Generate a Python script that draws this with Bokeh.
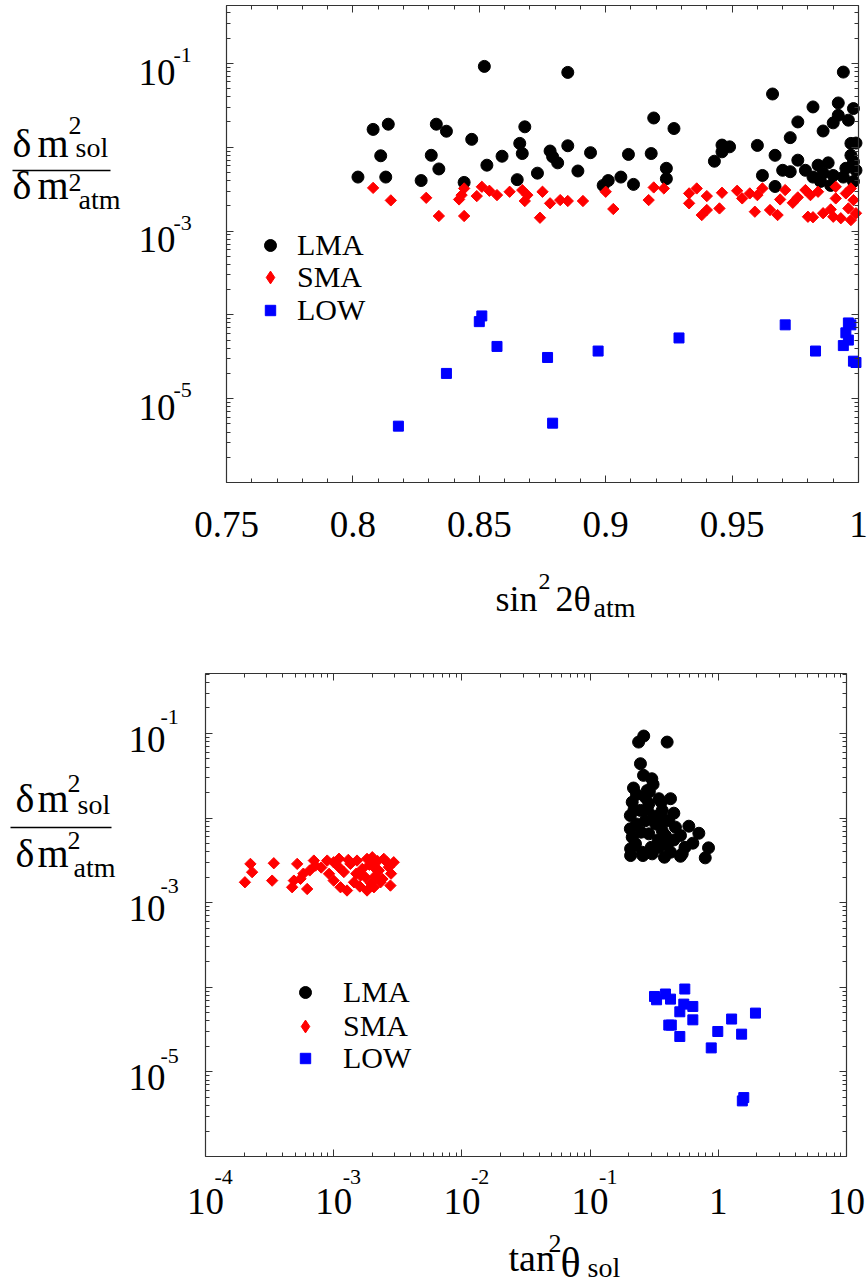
import math
from bokeh.plotting import figure
from bokeh.layouts import column
from bokeh.models import (FixedTicker, Label, Legend, LegendItem, LinearAxis, LogAxis,
                          Range1d, CustomJSTickFormatter, Arrow)
from bokeh.embed import file_html
from bokeh.resources import INLINE

FONT = "Liberation Serif"

# ---------------- data: top panel (sin^2 2theta_atm vs ratio) ----------------
lma_top_x = [0.808, 0.814, 0.811, 0.802, 0.813, 0.827, 0.833, 0.831, 0.834,
             0.852, 0.885, 0.994, 0.966, 0.982, 0.992, 0.998, 0.992, 0.990, 0.996,
             0.837, 0.868, 0.919, 0.927, 0.976, 0.986,
             0.847, 0.866, 0.885, 0.867, 0.878, 0.879, 0.881, 0.859, 0.894, 0.909, 0.918,
             0.853, 0.889, 0.873, 0.865, 0.844, 0.899, 0.901, 0.906, 0.911, 0.924, 0.924,
             0.946, 0.949, 0.946, 0.943, 0.960, 0.973, 0.967, 0.976, 0.962, 0.970, 0.973, 0.967,
             0.979, 0.984, 0.988, 0.982, 0.986, 0.990, 0.985, 0.989,
             0.997, 0.999, 0.997, 0.998, 0.995, 0.999, 0.998, 0.994]
lma_top_y = [0.0163, 0.0188, 0.0079, 0.0044, 0.0044, 0.0040, 0.0188, 0.0080, 0.0055,
             0.092, 0.078, 0.0787, 0.0431, 0.0302, 0.0337, 0.0289, 0.0240, 0.0195, 0.0210,
             0.0155, 0.0175, 0.0223, 0.0167, 0.0200, 0.0156,
             0.0124, 0.0111, 0.0104, 0.0084, 0.0090, 0.0077, 0.0065, 0.0078, 0.0086, 0.0082, 0.0084,
             0.0061, 0.0052, 0.0049, 0.0041, 0.0038, 0.0035, 0.0040, 0.0044, 0.0036, 0.0056, 0.0042,
             0.0106, 0.0101, 0.0088, 0.0068, 0.0105, 0.0130, 0.0080, 0.0070, 0.0046, 0.0053, 0.0051, 0.0034,
             0.0053, 0.0061, 0.0065, 0.0044, 0.0049, 0.0046, 0.0039, 0.0035,
             0.0111, 0.0112, 0.0080, 0.0067, 0.0056, 0.0053, 0.0039, 0.0044]

sma_top_x = [0.808, 0.815, 0.829, 0.834,
             0.844, 0.843, 0.842, 0.844, 0.851, 0.849, 0.854, 0.857, 0.862, 0.867, 0.869, 0.868,
             0.875, 0.878, 0.882, 0.885, 0.874, 0.891, 0.900, 0.903, 0.917, 0.919, 0.923,
             0.933, 0.936, 0.933, 0.940, 0.938, 0.940, 0.946, 0.945, 0.952, 0.954, 0.957, 0.962,
             0.960, 0.959, 0.965, 0.968, 0.969, 0.971, 0.974, 0.976, 0.979, 0.981, 0.984, 0.980,
             0.982, 0.986, 0.989, 0.991, 0.991, 0.990, 0.993, 0.995, 0.997, 0.998, 0.996, 0.999, 0.997]
sma_top_y = [0.00327, 0.00232, 0.00249, 0.00151,
             0.00322, 0.00268, 0.00238, 0.00151, 0.00337, 0.00261, 0.00302, 0.00268, 0.00294, 0.00308, 0.00268, 0.00228,
             0.00294, 0.00214, 0.00234, 0.00228, 0.00144, 0.00228, 0.00294, 0.00183, 0.00234, 0.00331, 0.00322,
             0.00281, 0.00322, 0.00214, 0.00261, 0.00155, 0.00178, 0.00286, 0.00186, 0.00302, 0.00245, 0.00281, 0.00322,
             0.00268, 0.00170, 0.00178, 0.00155, 0.00238, 0.00308, 0.00217, 0.00252, 0.00308, 0.00268, 0.00294, 0.00148,
             0.00146, 0.00163, 0.00181, 0.00337, 0.00245, 0.00148, 0.00142, 0.00281, 0.00322, 0.00234, 0.00186, 0.00163, 0.00135]

low_top_x = [0.851, 0.850, 0.857, 0.877, 0.897, 0.929, 0.971, 0.983, 0.996, 0.997,
             0.995, 0.996, 0.994, 0.998, 0.999, 0.837, 0.879, 0.818]
low_top_y = [9.7e-5, 8.3e-5, 4.2e-5, 3.1e-5, 3.7e-5, 5.3e-5, 7.6e-5, 3.7e-5, 8.0e-5, 7.6e-5,
             6.1e-5, 5.0e-5, 4.3e-5, 2.8e-5, 2.7e-5, 2.0e-5, 5.1e-6, 4.7e-6]

# ---------------- data: bottom panel (tan^2 theta_sol vs ratio) ----------------
lma_bot_x = [0.262, 0.239, 0.399, 0.247, 0.261, 0.303, 0.218, 0.290, 0.424, 0.213, 0.359, 0.206,
             0.450, 0.206, 0.589, 0.705, 0.633, 0.839, 0.791, 0.207, 0.258, 0.380, 0.507,
             0.279, 0.344, 0.287, 0.247, 0.365, 0.270, 0.324, 0.411, 0.213, 0.287, 0.387, 0.507,
             0.207, 0.255, 0.344, 0.424, 0.523, 0.305, 0.226, 0.365, 0.463,
             0.23, 0.32, 0.28, 0.38, 0.25, 0.45, 0.34, 0.22, 0.30, 0.40, 0.55, 0.27, 0.23, 0.31]
lma_bot_y = [0.093, 0.0789, 0.0789, 0.0438, 0.0319, 0.0291, 0.0226, 0.0206, 0.0169, 0.0154, 0.0154, 0.0107,
             0.0114, 0.00745, 0.0080, 0.0066, 0.00504, 0.00444, 0.00338, 0.0036, 0.0036, 0.00344, 0.00353,
             0.0211, 0.0169, 0.0147, 0.0123, 0.0123, 0.0093, 0.0085, 0.0093, 0.00593, 0.0065, 0.0062, 0.0062,
             0.00433, 0.00394, 0.00451, 0.00394, 0.00377, 0.00377, 0.00495, 0.0071, 0.0078,
             0.0085, 0.0105, 0.0125, 0.0095, 0.0068, 0.0055, 0.0055, 0.0125, 0.0045, 0.0048, 0.0045, 0.0175, 0.0190, 0.0250]

sma_bot_x = [2.24e-4, 2.31e-4, 2.03e-4, 3.41e-4, 3.31e-4, 5.19e-4, 4.89e-4, 4.74e-4, 5.51e-4, 6.21e-4,
             7.0e-4, 7.21e-4, 8.9e-4, 1.0e-3, 1.10e-3, 9.2e-4, 1.0e-3, 1.13e-3, 1.27e-3, 1.44e-3,
             1.35e-3, 1.52e-3, 1.67e-3, 1.82e-3, 2.0e-3, 2.06e-3, 1.77e-3, 1.82e-3, 2.06e-3, 2.32e-3,
             2.46e-3, 2.69e-3, 2.94e-3, 2.77e-3, 2.25e-3, 1.62e-3,
             1.2e-3, 1.5e-3, 1.9e-3, 2.2e-3, 2.6e-3, 1.3e-3, 1.1e-3, 8.0e-4, 1.6e-3, 2.4e-3, 2.8e-3, 1.95e-3,
             6.5e-4, 5.8e-4, 2.1e-3]
sma_bot_y = [2.87e-3, 2.29e-3, 1.74e-3, 2.92e-3, 1.82e-3, 2.87e-3, 1.82e-3, 1.52e-3, 1.91e-3, 1.45e-3,
             3.14e-3, 2.74e-3, 3.14e-3, 3.0e-3, 2.62e-3, 2.19e-3, 1.82e-3, 1.52e-3, 1.39e-3, 1.74e-3,
             2.87e-3, 3.14e-3, 2.5e-3, 3.29e-3, 3.44e-3, 2.62e-3, 1.99e-3, 1.39e-3, 1.52e-3, 1.74e-3,
             3.29e-3, 2.62e-3, 3.0e-3, 1.59e-3, 2.39e-3, 2.09e-3,
             2.3e-3, 2.2e-3, 2.8e-3, 3.1e-3, 3.0e-3, 3.2e-3, 3.3e-3, 2.6e-3, 1.55e-3, 1.9e-3, 2.2e-3, 1.7e-3,
             2.4e-3, 2.2e-3, 2.05e-3]

low_bot_x = [0.318, 0.330, 0.387, 0.424, 0.548, 0.538, 0.633, 0.501, 0.633, 0.430, 0.411, 0.501,
             0.991, 1.27, 1.95, 1.52, 0.881, 1.58, 1.54]
low_bot_y = [7.78e-5, 7.11e-5, 8.32e-5, 7.24e-5, 9.53e-5, 6.32e-5, 5.93e-5, 5.13e-5, 4.12e-5, 3.57e-5,
             3.57e-5, 2.62e-5, 3.0e-5, 4.21e-5, 4.95e-5, 2.79e-5, 1.92e-5, 4.97e-6, 4.54e-6]

# ---------------- tick labels ----------------
top_x_ticks = [0.75, 0.8, 0.85, 0.9, 0.95, 1.0]
top_x_labels = ["0.75", "0.8", "0.85", "0.9", "0.95", "1"]
y_label_ticks = [1e-1, 1e-3, 1e-5]
y_label_exps = ["-1", "-3", "-5"]
bot_x_pow_ticks = [1e-4, 1e-3, 1e-2, 1e-1]
bot_x_pow_exps = ["-4", "-3", "-2", "-1"]
bot_x_plain_ticks = [1.0, 10.0]
bot_x_plain_labels = ["1", "10"]
series_names = ["LMA", "SMA", "LOW"]

# ---------------- layout constants (pixels) ----------------
W = 868
H1, H2 = 650, 636
EDGE = "#333333"
BASE_FIX = 0.38   # raise alphabetic-baseline labels by this fraction of their font size

log_major_all = [10.0 ** k for k in range(-6, 2)]
log_minor_all = [m * 10.0 ** k for k in range(-6, 1) for m in range(2, 10)]
lin_minor = [round(0.75 + 0.01 * i, 2) for i in range(26)]


def within(vals, lo, hi):
    return [v for v in vals if lo * (1 - 1e-9) <= v <= hi * (1 + 1e-9)]


def lin_range(v0, p0, v1, p1, size):
    k = (v1 - v0) / (p1 - p0)
    return Range1d(v0 - p0 * k, v1 + (size - p1) * k)


def log_range_x(v0, p0, v1, p1, size):
    a, b = math.log10(v0), math.log10(v1)
    k = (b - a) / (p1 - p0)
    return Range1d(10 ** (a - p0 * k), 10 ** (b + (size - p1) * k))


def log_range_y(vtop, ptop, vbot, pbot, size):
    t, b = math.log10(vtop), math.log10(vbot)
    k = (t - b) / (pbot - ptop)
    return Range1d(10 ** (b - (size - pbot) * k), 10 ** (t + ptop * k))


def box_axis(p, cls, side, loc, bounds, major, minor):
    ax = cls(fixed_location=loc, bounds=bounds)
    ax.ticker = FixedTicker(ticks=within(major, *bounds), minor_ticks=within(minor, *bounds))
    ax.formatter = CustomJSTickFormatter(code="return ''")
    ax.major_label_text_font_size = "0px"
    ax.major_label_standoff = 0
    ax.major_tick_in = 7
    ax.major_tick_out = 0
    ax.minor_tick_in = 4
    ax.minor_tick_out = 0
    ax.major_tick_line_color = EDGE
    ax.minor_tick_line_color = EDGE
    ax.axis_line_color = EDGE
    ax.axis_line_width = 1.2
    p.add_layout(ax, side)


def lab(p, text, x, y, size, align="left", xo=0, yo=0):
    p.add_layout(Label(x=x, y=y, x_units="data", y_units="data", text=text, text_font=FONT,
                       text_font_size=f"{size}px", text_align=align, text_baseline="alphabetic",
                       x_offset=xo, y_offset=yo + BASE_FIX * size, text_color="black"))


def make_fig(height, xr, yr, x_type):
    p = figure(width=W, height=height, x_range=xr, y_range=yr, x_axis_type=x_type,
               y_axis_type="log", x_axis_location=None, y_axis_location=None,
               output_backend="svg", toolbar_location=None,
               min_border_left=0, min_border_right=0, min_border_top=0, min_border_bottom=0)
    p.grid.visible = False
    p.outline_line_color = None
    p.background_fill_color = "white"
    p.border_fill_color = "white"
    return p


def add_series(p, xs, ys):
    r1 = p.scatter(xs[0], ys[0], marker="circle", size=12, fill_color="black", line_color="black", line_width=1)
    r2 = p.scatter(xs[1], ys[1], marker="square", angle=math.pi / 4, size=8, fill_color="red",
                   line_color="red", line_width=1)
    r3 = p.scatter(xs[2], ys[2], marker="square", size=10, fill_color="blue", line_color="blue", line_width=1)
    # legend key for the diamonds (legend keys ignore glyph angle)
    r2k = p.scatter([float("nan")], [float("nan")], marker="diamond", size=8, fill_color="red",
                    line_color="red", line_width=1)
    return [r1, r2k, r3]


def add_legends(p, rends, specs):
    for r, name, (lx, ly, gw, so) in zip(rends, series_names, specs):
        leg = Legend(items=[LegendItem(label=name, renderers=[r])], location=(lx, ly),
                     glyph_width=gw, glyph_height=34, label_height=34, label_standoff=so,
                     padding=0, margin=0, spacing=0, border_line_color=None,
                     background_fill_alpha=0, label_text_font=FONT, label_text_font_size="30px",
                     label_text_color="black")
        p.add_layout(leg)


def frac_label(p, x0, y0, xd, xm, xs2, xsub_top, xsub_bot, y_num, y_sup_num, y_sub_num,
               y_den, y_sup_den, y_sub_den):
    lab(p, "δ", x0, y0, 40, xo=xd, yo=y_num)
    lab(p, "m", x0, y0, 40, xo=xm, yo=y_num)
    lab(p, "2", x0, y0, 26, xo=xs2, yo=y_sup_num)
    lab(p, "sol", x0, y0, 28, xo=xsub_top, yo=y_sub_num)
    lab(p, "δ", x0, y0, 40, xo=xd, yo=y_den)
    lab(p, "m", x0, y0, 40, xo=xm, yo=y_den)
    lab(p, "2", x0, y0, 26, xo=xs2, yo=y_sup_den)
    lab(p, "atm", x0, y0, 28, xo=xsub_bot, yo=y_sub_den)


def frac_bar(p, height, xa, xb, y_top_px):
    p.add_layout(Arrow(x_start=xa, y_start=height - y_top_px, x_end=xb, y_end=height - y_top_px,
                       start=None, end=None, start_units="screen", end_units="screen",
                       line_color="black", line_width=1.6))


# ================= top figure =================
T_XMIN, T_XMAX, T_YMIN, T_YMAX = 0.75, 1.0, 1e-6, 0.49
p1 = make_fig(H1, lin_range(T_XMIN, 226, T_XMAX, 858, W),
              log_range_y(T_YMAX, 5, T_YMIN, 482, H1), "linear")

r_top = add_series(p1, [lma_top_x, sma_top_x, low_top_x], [lma_top_y, sma_top_y, low_top_y])

box_axis(p1, LinearAxis, "below", T_YMIN, (T_XMIN, T_XMAX), top_x_ticks, lin_minor)
box_axis(p1, LinearAxis, "above", T_YMAX, (T_XMIN, T_XMAX), top_x_ticks, lin_minor)
box_axis(p1, LogAxis, "left", T_XMIN, (T_YMIN, T_YMAX), log_major_all, log_minor_all)
box_axis(p1, LogAxis, "right", T_XMAX, (T_YMIN, T_YMAX), log_major_all, log_minor_all)

add_legends(p1, r_top, [(255, H1 - 245 - 17, 30, 12), (254, H1 - 277 - 17, 32, 11),
                        (257, H1 - 310 - 17, 26, 14)])

for v, t in zip(top_x_ticks, top_x_labels):
    lab(p1, t, v, T_YMIN, 37, align="center", yo=-56)
for v, e in zip(y_label_ticks, y_label_exps):
    lab(p1, "10", T_XMIN, v, 37, align="right", xo=-51, yo=-23)
    lab(p1, e, T_XMIN, v, 22, xo=-53, yo=0)

lab(p1, "sin", T_XMIN, T_YMIN, 36, xo=269, yo=-130)
lab(p1, "2", T_XMIN, T_YMIN, 24, xo=312, yo=-108)
lab(p1, "2θ", T_XMIN, T_YMIN, 36, xo=329, yo=-130)
lab(p1, "atm", T_XMIN, T_YMIN, 28, xo=367, yo=-136)

frac_label(p1, T_XMIN, T_YMIN, -214, -189, -158, -151, -148, 324, 347, 324, 282, 290, 272)
frac_bar(p1, H1, 12, 110, 170)

# ================= bottom figure =================
B_XMIN, B_XMAX, B_YMIN, B_YMAX = 1e-4, 10.0, 1e-6, 0.51
p2 = make_fig(H2, log_range_x(B_XMIN, 205, B_XMAX, 846, W),
              log_range_y(B_YMAX, 23, B_YMIN, 506, H2), "log")

r_bot = add_series(p2, [lma_bot_x, sma_bot_x, low_bot_x], [lma_bot_y, sma_bot_y, low_bot_y])

box_axis(p2, LogAxis, "below", B_YMIN, (B_XMIN, B_XMAX), log_major_all, log_minor_all)
box_axis(p2, LogAxis, "above", B_YMAX, (B_XMIN, B_XMAX), log_major_all, log_minor_all)
box_axis(p2, LogAxis, "left", B_XMIN, (B_YMIN, B_YMAX), log_major_all, log_minor_all)
box_axis(p2, LogAxis, "right", B_XMAX, (B_YMIN, B_YMAX), log_major_all, log_minor_all)

add_legends(p2, r_bot, [(290, H2 - 342 - 17, 30, 23), (289, H2 - 376 - 17, 32, 22),
                        (292, H2 - 408 - 17, 26, 25)])

for v, e in zip(bot_x_pow_ticks, bot_x_pow_exps):
    lab(p2, "10", v, B_YMIN, 37, align="center", yo=-59)
    lab(p2, e, v, B_YMIN, 22, xo=9, yo=-29)
for v, t in zip(bot_x_plain_ticks, bot_x_plain_labels):
    lab(p2, t, v, B_YMIN, 37, align="center", yo=-59)
for v, e in zip(y_label_ticks, y_label_exps):
    lab(p2, "10", B_XMIN, v, 37, align="right", xo=-40, yo=-20)
    lab(p2, e, B_XMIN, v, 22, xo=-45, yo=8)

lab(p2, "tan", B_XMIN, B_YMIN, 38, xo=303, yo=-116)
lab(p2, "2", B_XMIN, B_YMIN, 26, xo=343, yo=-97)
lab(p2, "θ", B_XMIN, B_YMIN, 42, xo=355, yo=-122)
lab(p2, "sol", B_XMIN, B_YMIN, 28, xo=382, yo=-122)

frac_label(p2, B_XMIN, B_YMIN, -190, -168, -138, -128, -132, 343, 363, 341, 288, 306, 278)
frac_bar(p2, H2, 10, 111, 177)

layout = column(p1, p2)
open("out.html", "w").write(file_html(layout, INLINE))
